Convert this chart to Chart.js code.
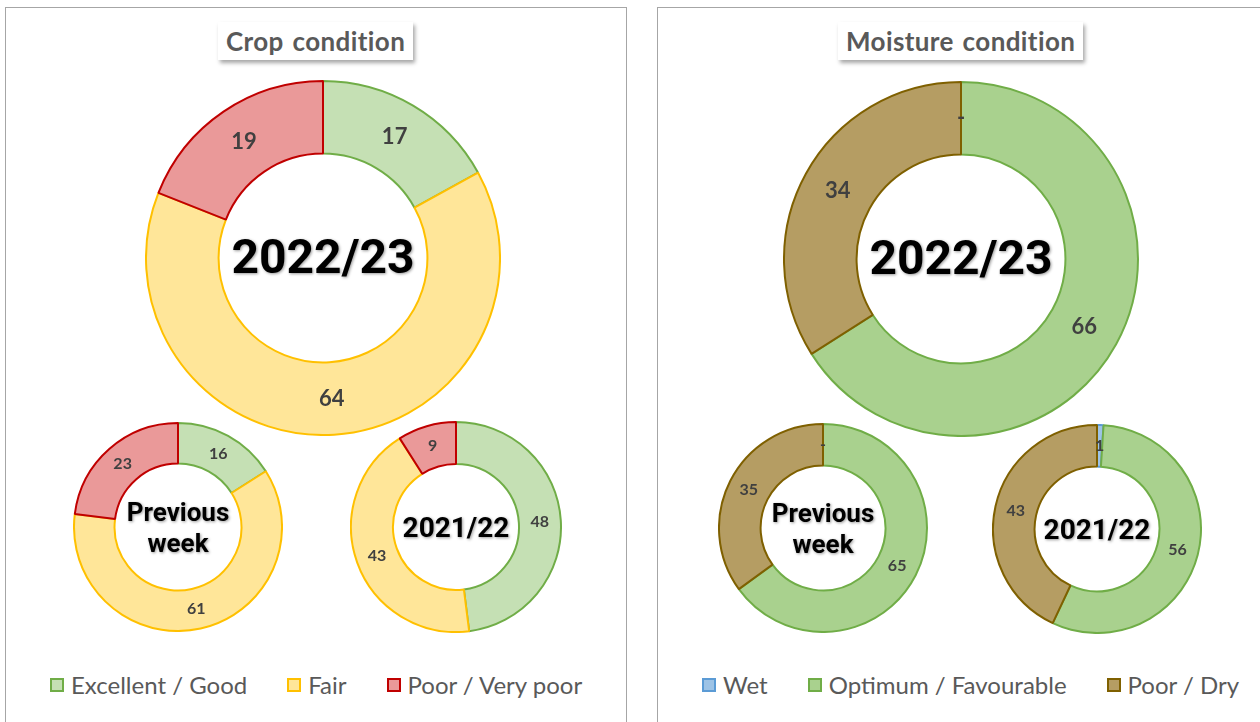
<!DOCTYPE html>
<html>
<head>
<meta charset="utf-8">
<script src="https://cdn.jsdelivr.net/npm/chart.js@4.4.0/dist/chart.umd.min.js"></script>
<style>
  body { margin:0; background:#fff; width:1260px; height:722px; overflow:hidden; position:relative;
         font-family: Lato, "Noto Sans", sans-serif; }
  .panel { position:absolute; top:7px; height:740px; border:1px solid #a6a6a6; box-sizing:border-box; }
  .title { position:absolute; background:#fff; color:#595959; font-weight:bold; font-size:26px;
           letter-spacing:0.4px; word-spacing:2px; line-height:30px;
           box-shadow:2px 3px 4px rgba(0,0,0,.35); padding:4px 8px; white-space:nowrap; }
  .donut { position:absolute; }
  .legend { position:absolute; top:670px; display:flex; gap:40px; color:#595959; font-size:24px; }
  .legend span.item { display:flex; align-items:center; }
  .legend i { display:inline-block; width:10px; height:10px; border:2px solid; margin-right:7px; }
</style>
</head>
<body>
<div class="panel" style="left:5px;width:622px"></div>
<div class="panel" style="left:657px;width:630px"></div>
<div class="title" style="left:218px;top:22px">Crop condition</div>
<div class="title" style="left:838px;top:22px">Moisture condition</div>

<canvas id="crop2223" class="donut"></canvas>
<canvas id="cropPrev" class="donut"></canvas>
<canvas id="crop2122" class="donut"></canvas>
<canvas id="moist2223" class="donut"></canvas>
<canvas id="moistPrev" class="donut"></canvas>
<canvas id="moist2122" class="donut"></canvas>

<div class="legend" id="cropLegend" style="left:50px"></div>
<div class="legend" id="moistLegend" style="left:702px"></div>

<script>
// data
const cropLabels = ["Excellent / Good", "Fair", "Poor / Very poor"];
const crop2223 = [17, 64, 19];
const cropPrevWeek = [16, 61, 23];
const crop2122 = [48, 43, 9];

const moistLabels = ["Wet", "Optimum / Favourable", "Poor / Dry"];
const moist2223 = [0, 66, 34];
const moistPrevWeek = [0, 65, 35];
const moist2122 = [1, 56, 43];

// colours
const cropFill = ["#C5E0B4", "#FFE699", "#EA9999"];
const cropLine = ["#70AD47", "#FFC000", "#C00000"];
const moistFill = ["#9DC3E6", "#A9D18E", "#B59D63"];
const moistLine = ["#5B9BD5", "#70AD47", "#7F6000"];

/* value labels on the ring */
const ringLabels = {
  id: "ringLabels",
  afterDatasetsDraw(chart, args, opts) {
    const ctx = chart.ctx;
    const ds = chart.data.datasets[0];
    chart.getDatasetMeta(0).data.forEach((arc, i) => {
      const p = arc.tooltipPosition();
      const v = ds.data[i];
      ctx.save();
      ctx.font = "bold " + opts.size + "px Lato, 'Noto Sans', sans-serif";
      ctx.fillStyle = "#404040";
      ctx.textAlign = "center";
      ctx.textBaseline = "middle";
      ctx.fillText(v === 0 ? "-" : v, p.x, p.y);
      ctx.restore();
    });
  }
};

/* text in the hole */
const centerText = {
  id: "centerText",
  afterDraw(chart, args, opts) {
    const ctx = chart.ctx;
    const a = chart.getDatasetMeta(0).data[0];
    const lines = opts.lines;
    ctx.save();
    ctx.font = "bold " + opts.size + "px Roboto, 'DejaVu Sans', sans-serif";
    ctx.fillStyle = "#000";
    ctx.textAlign = "center";
    ctx.textBaseline = "middle";
    ctx.shadowColor = "rgba(0,0,0,0.4)";
    ctx.shadowBlur = 3;
    ctx.shadowOffsetX = 1;
    ctx.shadowOffsetY = 1;
    const lh = opts.size * 1.2;
    lines.forEach((t, i) => {
      ctx.fillText(t, a.x, a.y + 3 + (i - (lines.length - 1) / 2) * lh);
    });
    ctx.restore();
  }
};

function makeDonut(id, cx, cy, r, cutout, labels, values, fill, line, lblSize, lines, txtSize) {
  const cv = document.getElementById(id);
  const s = 2 * r + 2;
  cv.width = s; cv.height = s;
  cv.style.left = (cx - s / 2) + "px";
  cv.style.top = (cy - s / 2) + "px";
  return new Chart(cv, {
    type: "doughnut",
    data: {
      labels: labels,
      datasets: [{
        data: values,
        backgroundColor: fill,
        borderColor: line,
        borderWidth: 2,
        hoverOffset: 0,
        offset: 0
      }]
    },
    options: {
      responsive: false,
      animation: false,
      cutout: cutout,
      layout: { padding: 0 },
      events: [],
      plugins: {
        legend: { display: false },
        tooltip: { enabled: false },
        ringLabels: { size: lblSize },
        centerText: { lines: lines, size: txtSize }
      }
    },
    plugins: [ringLabels, centerText]
  });
}

makeDonut("crop2223", 323, 258, 177, "59%", cropLabels, crop2223, cropFill, cropLine, 22, ["2022/23"], 48);
makeDonut("cropPrev", 178, 527, 104, "61%", cropLabels, cropPrevWeek, cropFill, cropLine, 16, ["Previous", "week"], 26);
makeDonut("crop2122", 456, 527, 105, "60%", cropLabels, crop2122, cropFill, cropLine, 16, ["2021/22"], 28);
makeDonut("moist2223", 961, 259, 177, "59%", moistLabels, moist2223, moistFill, moistLine, 22, ["2022/23"], 48);
makeDonut("moistPrev", 823, 528, 104, "60%", moistLabels, moistPrevWeek, moistFill, moistLine, 16, ["Previous", "week"], 26);
makeDonut("moist2122", 1097, 529, 104, "60%", moistLabels, moist2122, moistFill, moistLine, 16, ["2021/22"], 28);

/* legends */
function buildLegend(el, labels, fill, line) {
  labels.forEach((l, i) => {
    const it = document.createElement("span");
    it.className = "item";
    it.innerHTML = '<i style="background:' + fill[i] + ';border-color:' + line[i] + '"></i>' + l;
    el.appendChild(it);
  });
}
buildLegend(document.getElementById("cropLegend"), cropLabels, cropFill, cropLine);
buildLegend(document.getElementById("moistLegend"), moistLabels, moistFill, moistLine);
</script>
</body>
</html>
